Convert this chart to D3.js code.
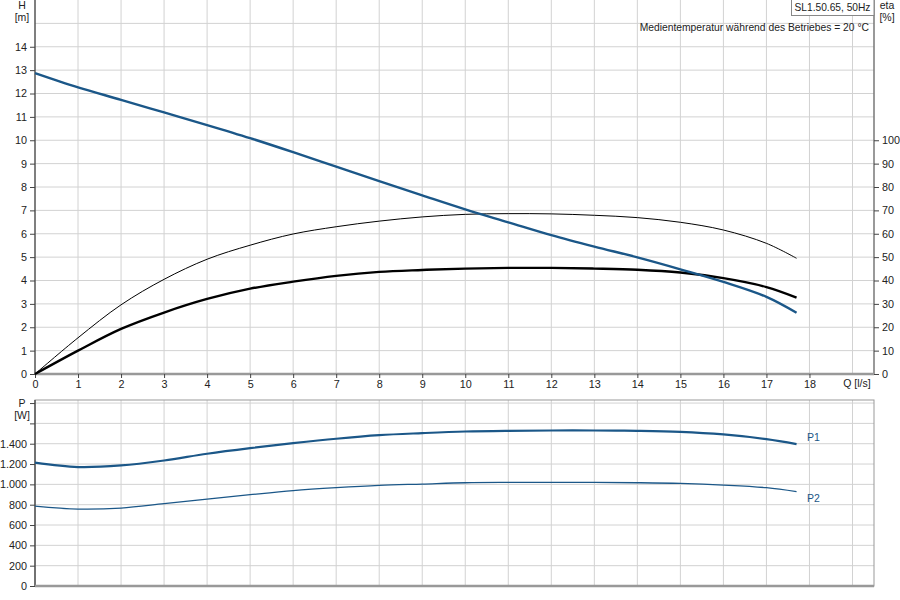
<!DOCTYPE html>
<html>
<head>
<meta charset="utf-8">
<script src="https://cdn.jsdelivr.net/npm/d3@7"></script>
<style>
  body { margin: 0; background: #fff; }
  svg { font-family: "Liberation Sans", Arial, sans-serif; }
  .grid line { stroke: #d2d2d2; stroke-width: 1; }
  .tick text { fill: #222; font-size: 10.8px; }
</style>
</head>
<body>
<svg id="chart" width="900" height="600"></svg>
<script>
// flow points (l/s)
const qValues = [0, 1, 2, 3, 4, 5, 6, 7, 8, 9, 10, 11, 12, 13, 14, 15, 16, 17, 17.7];
// head H [m]
const headValues = [12.87, 12.26, 11.73, 11.19, 10.65, 10.09, 9.49, 8.87, 8.25, 7.64, 7.04, 6.49, 5.94, 5.45, 4.99, 4.48, 3.94, 3.30, 2.62];
// hydraulic efficiency eta [%]
const etaValues = [0, 15.5, 29.6, 40.5, 49.1, 55.1, 59.9, 63.0, 65.4, 67.2, 68.3, 68.6, 68.5, 67.9, 66.9, 64.9, 61.6, 55.9, 49.5];
// total efficiency eta [%]
const etaTotalValues = [0, 10.0, 19.3, 26.3, 32.1, 36.5, 39.5, 42.0, 43.7, 44.5, 45.1, 45.4, 45.4, 45.1, 44.6, 43.4, 41.0, 37.2, 32.7];
// power P1 / P2 [W]
const p1Values = [1213, 1170, 1186, 1235, 1301, 1356, 1405, 1449, 1484, 1504, 1520, 1527, 1530, 1530, 1527, 1517, 1491, 1445, 1396];
const p2Values = [786, 757, 767, 810, 855, 898, 938, 967, 990, 1003, 1016, 1019, 1019, 1019, 1016, 1009, 993, 967, 928];

const qTicks = d3.range(0, 19);
const hTicks = d3.range(0, 15);
const etaTicks = d3.range(0, 101, 10);
const pTicks = d3.range(0, 1801, 200);
const pLabelMax = 1400;

const blue = "#1b5788";
const svg = d3.select("#chart");

const left = 35, right = 874;
const x = d3.scaleLinear().domain([0, 19.5]).range([left, right]);
const yH = d3.scaleLinear().domain([0, 16]).range([374, 0]);
const yEta = d3.scaleLinear().domain([0, 160]).range([374, 0]);
const yP = d3.scaleLinear().domain([0, 1830]).range([586, 400]);

const locale = d3.formatLocale({ decimal: ",", thousands: ".", grouping: [3], currency: ["", ""] });
const pFmt = locale.format(",d");

// grids
function vgrid(y0, y1) {
  svg.append("g").attr("class", "grid")
    .selectAll("line").data(d3.range(1, 20)).join("line")
    .attr("x1", d => x(d)).attr("x2", d => x(d))
    .attr("y1", y0).attr("y2", y1);
}
vgrid(0, 374);
vgrid(400, 586);
svg.append("g").attr("class", "grid")
  .selectAll("line").data(d3.range(1, 16)).join("line")
  .attr("x1", left).attr("x2", right)
  .attr("y1", d => yH(d)).attr("y2", d => yH(d));
svg.append("g").attr("class", "grid")
  .selectAll("line").data(d3.range(200, 1801, 200)).join("line")
  .attr("x1", left).attr("x2", right)
  .attr("y1", d => yP(d)).attr("y2", d => yP(d));

// frames
svg.append("line").attr("x1", right).attr("x2", right).attr("y1", 0).attr("y2", 374)
  .attr("stroke", "#777").attr("stroke-width", 1.5);
svg.append("rect").attr("x", left).attr("y", 400).attr("width", right - left).attr("height", 186)
  .attr("fill", "none").attr("stroke", "#999").attr("stroke-width", 1);

// axes
function styleAxis(g, color) {
  g.selectAll(".domain").attr("stroke", color).attr("stroke-width", 1.5);
  g.selectAll(".tick line").attr("stroke", "#444");
}
const hAxis = svg.append("g").attr("transform", `translate(${left},0)`)
  .call(d3.axisLeft(yH).tickValues(hTicks).tickSize(5).tickSizeOuter(0).tickPadding(3));
hAxis.select(".domain").attr("d", `M0,0V374`);
styleAxis(hAxis, "#555");

const etaAxis = svg.append("g").attr("transform", `translate(${right},0)`)
  .call(d3.axisRight(yEta).tickValues(etaTicks).tickSize(5).tickSizeOuter(0).tickPadding(3));
etaAxis.select(".domain").remove();
styleAxis(etaAxis, "#777");

const qAxis = svg.append("g").attr("transform", "translate(0,374)")
  .call(d3.axisBottom(x).tickValues(qTicks).tickSize(4).tickSizeOuter(0).tickPadding(2));
qAxis.select(".domain").attr("d", `M${left},0H${right}`).attr("stroke", "#999").attr("stroke-width", 2.5);
qAxis.selectAll(".tick line").attr("stroke", "#444");

const pAxis = svg.append("g").attr("transform", `translate(${left},0)`)
  .call(d3.axisLeft(yP).tickValues(pTicks).tickSize(5).tickSizeOuter(0).tickPadding(3)
    .tickFormat(d => d <= pLabelMax ? pFmt(d) : ""));
pAxis.select(".domain").attr("d", `M0,400V586`);
styleAxis(pAxis, "#555");

const pBottom = svg.append("g").attr("transform", "translate(0,586)")
  .call(d3.axisBottom(x).tickValues([]).tickSizeOuter(0));
pBottom.select(".domain").attr("d", `M${left},0H${right}`).attr("stroke", "#999").attr("stroke-width", 2.5);

// curves
const pts = vals => qValues.map((q, i) => [q, vals[i]]);
const lineOn = ys => d3.line().x(d => x(d[0])).y(d => ys(d[1])).curve(d3.curveCatmullRom.alpha(0.5));

svg.append("path").attr("d", lineOn(yEta)(pts(etaValues)))
  .attr("fill", "none").attr("stroke", "#000").attr("stroke-width", 1);
svg.append("path").attr("d", lineOn(yEta)(pts(etaTotalValues)))
  .attr("fill", "none").attr("stroke", "#000").attr("stroke-width", 2.4);
svg.append("path").attr("d", lineOn(yH)(pts(headValues)))
  .attr("fill", "none").attr("stroke", blue).attr("stroke-width", 2.4);
svg.append("path").attr("d", lineOn(yP)(pts(p1Values)))
  .attr("fill", "none").attr("stroke", blue).attr("stroke-width", 2.2);
svg.append("path").attr("d", lineOn(yP)(pts(p2Values)))
  .attr("fill", "none").attr("stroke", blue).attr("stroke-width", 1.3);

// labels
const txt = (tx, ty, s, anchor, color) => svg.append("text")
  .attr("x", tx).attr("y", ty).attr("text-anchor", anchor || "start")
  .attr("fill", color || "#222").attr("font-size", 10.5).text(s);

txt(22, 9, "H", "middle");
txt(22, 21, "[m]", "middle");
txt(887, 9, "eta", "middle");
txt(887, 21, "[%]", "middle");
txt(22, 407, "P", "middle");
txt(22, 419, "[W]", "middle");
txt(857, 387, "Q [l/s]", "middle");
txt(807, 441, "P1", "start", blue);
txt(807, 502, "P2", "start", blue);

svg.append("rect").attr("x", 791.5).attr("y", -1).attr("width", 82.5).attr("height", 16.5)
  .attr("fill", "#fff").attr("stroke", "#888").attr("stroke-width", 1);
svg.append("text").attr("x", 832.5).attr("y", 11).attr("text-anchor", "middle")
  .attr("fill", "#222").attr("font-size", 10.2).text("SL1.50.65, 50Hz");
svg.append("text").attr("x", 869).attr("y", 31).attr("text-anchor", "end")
  .attr("fill", "#222").attr("font-size", 10.3).text("Medientemperatur während des Betriebes = 20 °C");
</script>
</body>
</html>
